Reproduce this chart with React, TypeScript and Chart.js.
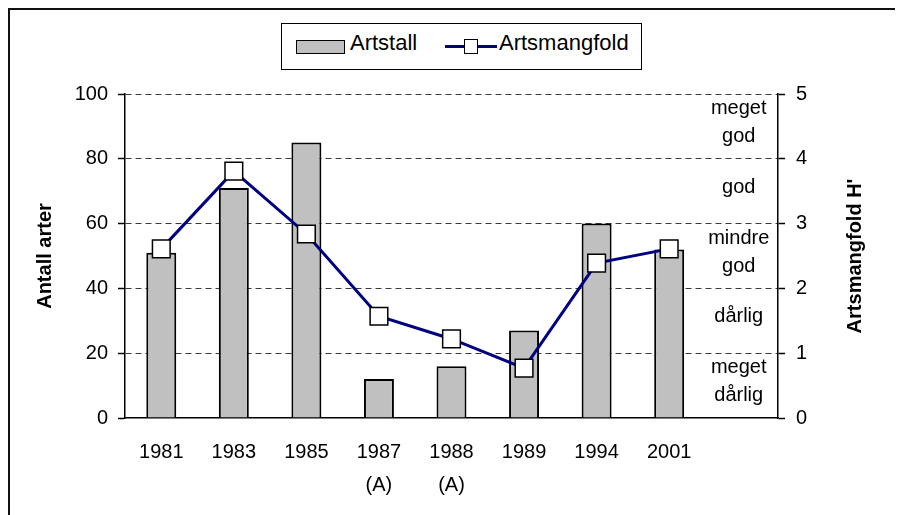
import React, { useEffect, useRef } from "react";
import { Chart, registerables } from "chart.js";

Chart.register(...registerables);

// ---- data ----
const categories: (string | string[])[] = [
  "1981",
  "1983",
  "1985",
  ["1987", "(A)"],
  ["1988", "(A)"],
  "1989",
  "1994",
  "2001",
  "",
];
const artstall = [51, 71, 85, 12, 16, 27, 60, 52];
const artsmangfold = [2.61, 3.81, 2.84, 1.57, 1.22, 0.77, 2.39, 2.61];
const leftAxisMax = 100;
const leftAxisStep = 20;
const rightAxisMax = 5;
const rightAxisStep = 1;
const qualityLabels: string[][] = [
  ["meget", "dårlig"],
  ["dårlig"],
  ["mindre", "god"],
  ["god"],
  ["meget", "god"],
];
const leftTitle = "Antall arter";
const rightTitle = "Artsmangfold H'";
const barLabel = "Artstall";
const lineLabel = "Artsmangfold";

const FONT = '"Liberation Sans", Arial, Helvetica, sans-serif';

const qualityPlugin = {
  id: "qualityLabels",
  afterDraw(chart: any) {
    const { ctx, scales, chartArea } = chart;
    const x = scales.x;
    const y1 = scales.y1;
    const cx = x.getPixelForValue(categories.length - 1) - 3;
    ctx.save();
    ctx.font = `20px ${FONT}`;
    ctx.fillStyle = "#000";
    ctx.textAlign = "center";
    ctx.textBaseline = "middle";
    const lh = 28;
    qualityLabels.forEach((lines, i) => {
      const cy = y1.getPixelForValue(i + 0.5) - 4;
      lines.forEach((t, j) => {
        ctx.fillText(t, cx, cy + (j - (lines.length - 1) / 2) * lh);
      });
    });
    // right axis title, reading bottom to top
    ctx.font = `bold 20px ${FONT}`;
    ctx.translate(847, (chartArea.top + chartArea.bottom) / 2);
    ctx.rotate(-Math.PI / 2);
    ctx.fillText(rightTitle, 0, 0);
    ctx.restore();
  },
};

export default function App() {
  const ref = useRef<HTMLCanvasElement>(null);

  useEffect(() => {
    Chart.defaults.font.family = FONT;
    Chart.defaults.color = "#000";
    const chart = new Chart(ref.current as HTMLCanvasElement, {
      type: "bar",
      data: {
        labels: categories,
        datasets: [
          {
            type: "line",
            label: lineLabel,
            data: artsmangfold,
            yAxisID: "y1",
            borderColor: "#000080",
            borderWidth: 3,
            tension: 0,
            pointStyle: "rect",
            pointRadius: 12.5,
            pointBackgroundColor: "#ffffff",
            pointBorderColor: "#000000",
            pointBorderWidth: 1.5,
            order: 0,
          } as any,
          {
            type: "bar",
            label: barLabel,
            data: artstall,
            yAxisID: "y",
            backgroundColor: "#c0c0c0",
            borderColor: "#000000",
            borderWidth: 2,
            categoryPercentage: 1,
            barPercentage: 0.413,
            order: 1,
          } as any,
        ],
      },
      options: {
        responsive: false,
        animation: false,
        layout: { padding: { top: 86, left: 0, right: 0, bottom: 0 } },
        plugins: {
          legend: { display: false },
          tooltip: { enabled: false },
        },
        scales: {
          x: {
            type: "category",
            offset: true,
            grid: { display: false, drawTicks: false },
            border: { display: true, color: "#000", width: 1.5 },
            ticks: {
              font: { size: 20, lineHeight: 1.65 },
              color: "#000",
              padding: 18,
              maxRotation: 0,
              autoSkip: false,
            },
            afterFit: (s: any) => {
              s.height = 97;
            },
          },
          y: {
            position: "left",
            min: 0,
            max: leftAxisMax,
            ticks: {
              stepSize: leftAxisStep,
              font: { size: 20 },
              color: "#000",
              padding: 10,
            },
            grid: {
              color: (c: any) =>
                c.tick && c.tick.value === 0 ? "rgba(0,0,0,0)" : "#3a3a3a",
              lineWidth: 1,
              drawTicks: true,
              tickLength: 7,
              tickColor: "#000",
              tickWidth: 1.5,
            },
            border: { display: true, color: "#000", width: 1.5, dash: [6, 4] },
            title: {
              display: true,
              text: leftTitle,
              font: { size: 20, weight: "bold" },
              color: "#000",
              padding: { top: 25, bottom: 0 },
            },
            afterFit: (s: any) => {
              s.width = 117;
            },
          },
          y1: {
            position: "right",
            min: 0,
            max: rightAxisMax,
            ticks: {
              stepSize: rightAxisStep,
              font: { size: 20 },
              color: "#000",
              padding: 11,
            },
            grid: {
              drawOnChartArea: false,
              drawTicks: true,
              tickLength: 7,
              tickColor: "#000",
              tickWidth: 1.5,
            },
            border: { display: true, color: "#000", width: 1.5 },
            afterFit: (s: any) => {
              s.width = 125;
            },
          },
        },
      } as any,
      plugins: [qualityPlugin],
    });
    return () => chart.destroy();
  }, []);

  const textStyle: React.CSSProperties = {
    position: "absolute",
    top: 6,
    lineHeight: "26px",
    fontSize: 22,
    whiteSpace: "nowrap",
    color: "#000",
  };

  return (
    <div
      style={{
        position: "relative",
        width: 895,
        height: 507,
        overflow: "hidden",
        fontFamily: FONT,
      }}
    >
      <div
        style={{
          position: "absolute",
          left: 0,
          top: 0,
          width: 960,
          height: 600,
          border: "2px solid #111",
          boxSizing: "border-box",
        }}
      />
      <canvas
        ref={ref}
        width={895}
        height={507}
        style={{ position: "absolute", left: 0, top: 0 }}
      />
      <div
        style={{
          position: "absolute",
          left: 273,
          top: 15,
          width: 361,
          height: 47,
          border: "1px solid #000",
          boxSizing: "border-box",
          background: "#fff",
        }}
      >
        <div
          style={{
            position: "absolute",
            left: 14,
            top: 16,
            width: 49,
            height: 14,
            background: "#c0c0c0",
            border: "1px solid #000",
            boxSizing: "border-box",
          }}
        />
        <span style={{ ...textStyle, left: 68 }}>{barLabel}</span>
        <div
          style={{
            position: "absolute",
            left: 163,
            top: 21,
            width: 52,
            height: 3,
            background: "#000080",
          }}
        />
        <div
          style={{
            position: "absolute",
            left: 182,
            top: 15,
            width: 14,
            height: 15,
            background: "#fff",
            border: "1px solid #000",
            boxSizing: "border-box",
          }}
        />
        <span style={{ ...textStyle, left: 217 }}>{lineLabel}</span>
      </div>
    </div>
  );
}
